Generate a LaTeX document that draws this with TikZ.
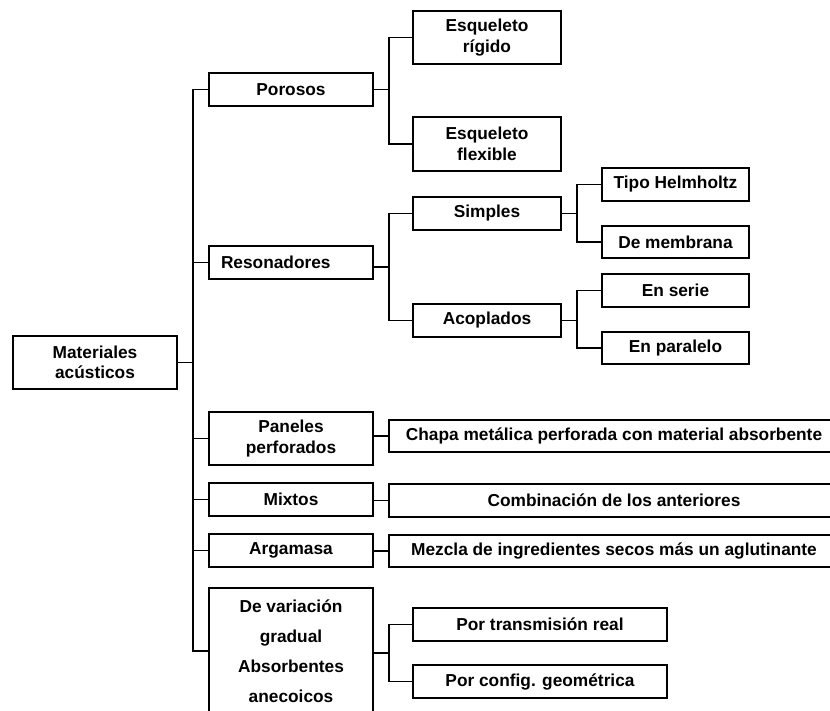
\documentclass[tikz,border=0pt]{standalone}
\usepackage{fontspec}
\setmainfont{Liberation Sans}
\begin{document}
\begin{tikzpicture}[x=1pt,y=-1pt,
  box/.style={draw, line width=1.9pt, inner sep=0pt, align=center,
    font=\bfseries\fontsize{17.3}{20.5}\selectfont},
  conn/.style={line width=1.5pt}]
\useasboundingbox (0,0) rectangle (830,711);
% level 0
\node[box, minimum width=164, minimum height=53] (root) at (95,362.5) {Materiales\\acústicos};
% level 1
\node[box, minimum width=164, minimum height=33] (por) at (291,89.5) {Porosos};
\node[box, minimum width=164, minimum height=33, text width=140, align=left] (res) at (291,262.5) {Resonadores};
\node[box, minimum width=164, minimum height=53] (pan) at (291,438.5) {Paneles\\perforados};
\node[box, minimum width=164, minimum height=33] (mix) at (291,499.5) {Mixtos};
\node[box, minimum width=164, minimum height=33] (arg) at (291,550.5) {Argamasa};
\node[box, minimum width=164, minimum height=126, font=\bfseries\fontsize{17.3}{30}\selectfont] (dev) at (291,651) {De variación\\gradual\\Absorbentes\\anecoicos};
% level 2
\node[box, minimum width=148, minimum height=53] (rig) at (487,37.5) {Esqueleto\\rígido};
\node[box, minimum width=148, minimum height=54] (flex) at (487,144) {Esqueleto\\flexible};
\node[box, minimum width=148, minimum height=33] (sim) at (487,213.5) {Simples};
\node[box, minimum width=148, minimum height=33] (aco) at (487,320.5) {Acoplados};
\node[box, minimum width=450, minimum height=32] (chapa) at (614,436) {Chapa metálica perforada con material absorbente};
\node[box, minimum width=450, minimum height=33] (comb) at (614,500.5) {Combinación de los anteriores};
\node[box, minimum width=450, minimum height=32] (mez) at (614,551) {Mezcla de ingredientes secos más un aglutinante};
\node[box, minimum width=254, minimum height=33] (ptr) at (540,624.5) {Por transmisión real};
\node[box, minimum width=254, minimum height=33] (pcg) at (540,681.5) {Por config. geométrica};
% level 3
\node[box, minimum width=147, minimum height=33] (hel) at (675.5,184.5) {Tipo Helmholtz};
\node[box, minimum width=147, minimum height=32] (mem) at (675.5,242) {De membrana};
\node[box, minimum width=147, minimum height=33] (ser) at (675.5,290.5) {En serie};
\node[box, minimum width=147, minimum height=32] (par) at (675.5,348) {En paralelo};
% branch points
\coordinate (t) at (193,362.5);
\coordinate (b1) at (389,89.5);
\coordinate (b2) at (389,267);
\coordinate (b3) at (577,213.5);
\coordinate (b4) at (577,320.5);
\coordinate (b5) at (389,653);
% connectors
\draw[conn] (root.east) -- (t);
\foreach \c in {por,res,pan,mix,arg,dev} \draw[conn] (t) |- (\c.west);
\draw[conn] (por.east) -- (b1);
\draw[conn] (b1) |- (rig.west);
\draw[conn] (b1) |- (flex.west);
\draw[conn] (res.east |- b2) -- (b2);
\draw[conn] (b2) |- (sim.west);
\draw[conn] (b2) |- (aco.west);
\draw[conn] (sim.east) -- (b3);
\draw[conn] (b3) |- (hel.west);
\draw[conn] (b3) |- (mem.west);
\draw[conn] (aco.east) -- (b4);
\draw[conn] (b4) |- (ser.west);
\draw[conn] (b4) |- (par.west);
\draw[conn] (chapa.west -| pan.east) -- (chapa.west);
\draw[conn] (comb.west -| mix.east) -- (comb.west);
\draw[conn] (mez.west -| arg.east) -- (mez.west);
\draw[conn] (dev.east |- b5) -- (b5);
\draw[conn] (b5) |- (ptr.west);
\draw[conn] (b5) |- (pcg.west);
\end{tikzpicture}
\end{document}
